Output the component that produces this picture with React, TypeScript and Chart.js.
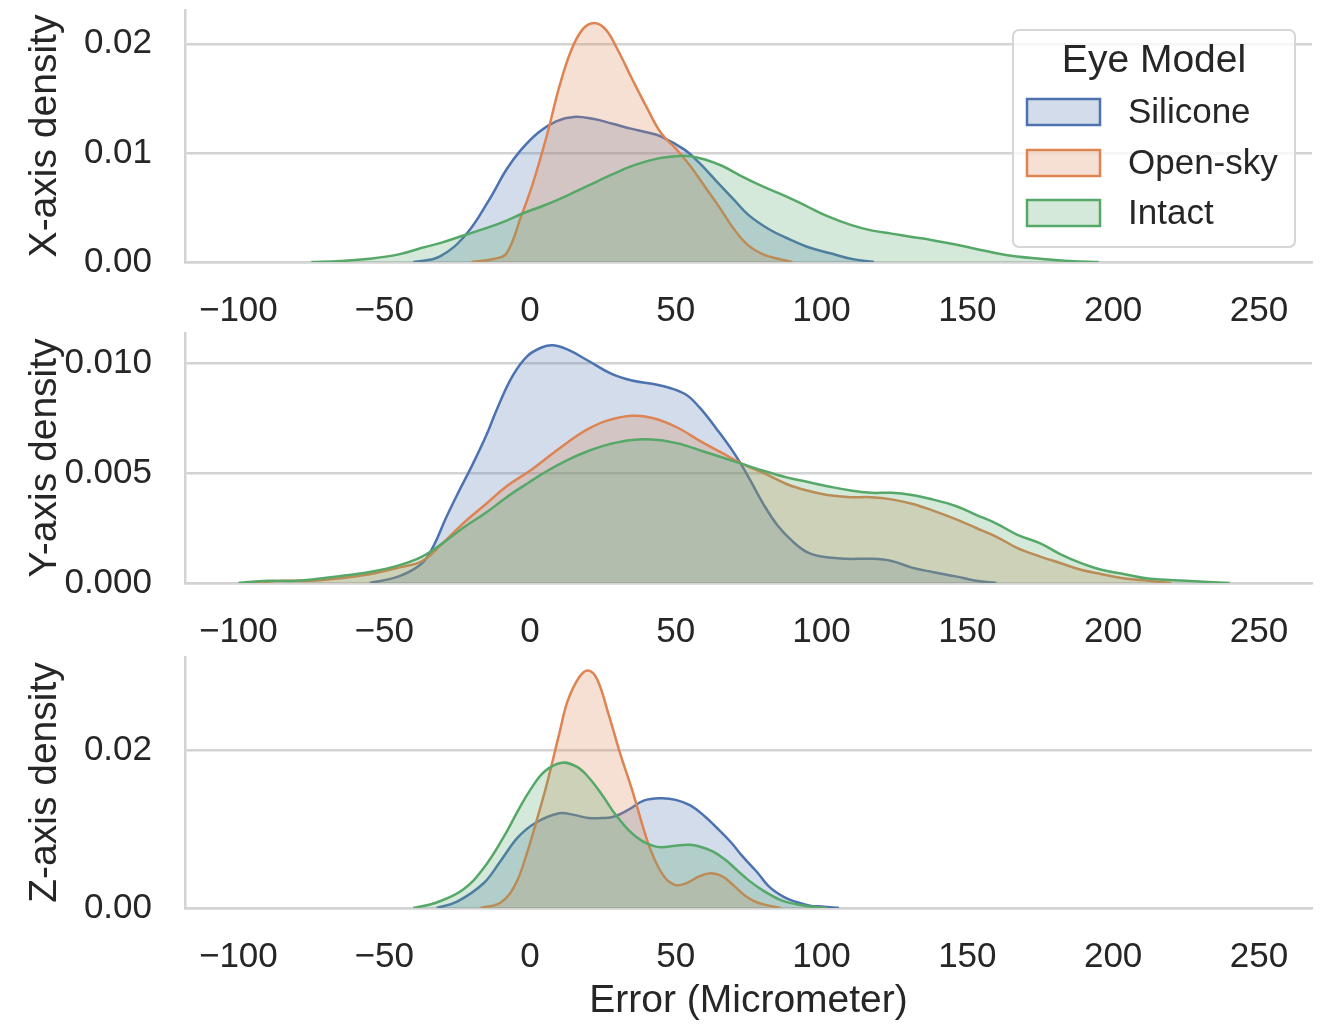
import React, { useEffect, useRef } from "react";
import { Chart, registerables } from "chart.js";

Chart.register(...registerables);

// ---------- data ----------
const seriesNames = ["Silicone", "Open-sky", "Intact"];
const xTickValues = [-100, -50, 0, 50, 100, 150, 200, 250];
const xTickLabels = ["\u2212100", "\u221250", "0", "50", "100", "150", "200", "250"];

// X-axis density panel
const xSiliconeX = [-40, -31, -22, -14, -8, -3, 3, 9, 15, 22, 28, 35, 40, 45, 53, 58, 64, 70, 75, 82, 88, 95, 103, 110, 118];
const xSiliconeY = [0, 0.0005, 0.0025, 0.0057, 0.0085, 0.0103, 0.0119, 0.0129, 0.0133, 0.0131, 0.0127, 0.0122, 0.0119, 0.0115, 0.0103, 0.0091, 0.0074, 0.0057, 0.0043, 0.003, 0.0022, 0.0014, 0.0008, 0.0003, 0];
const xOpenSkyX = [-20, -12, -8, -3, 1, 6, 10, 14, 18, 22, 26, 30, 35, 40, 45, 50, 55, 60, 65, 70, 75, 80, 85, 90];
const xOpenSkyY = [0, 0.0003, 0.0008, 0.0042, 0.0072, 0.0118, 0.016, 0.0193, 0.0213, 0.0219, 0.0213, 0.0195, 0.0168, 0.0142, 0.0118, 0.0104, 0.0088, 0.0069, 0.005, 0.003, 0.0015, 0.0007, 0.0003, 0];
const xIntactX = [-75, -65, -55, -45, -37, -30, -22, -15, -8, -3, 5, 12, 20, 28, 36, 44, 50, 55, 60, 66, 73, 80, 88, 95, 102, 110, 117, 124, 131, 138, 146, 153, 160, 167, 175, 185, 195];
const xIntactY = [0, 0.0001, 0.0003, 0.0007, 0.0013, 0.0018, 0.0025, 0.0031, 0.0038, 0.0044, 0.0052, 0.006, 0.007, 0.008, 0.0089, 0.0095, 0.0097, 0.0097, 0.0094, 0.0088, 0.0078, 0.0069, 0.006, 0.0051, 0.0042, 0.0034, 0.0029, 0.0026, 0.0023, 0.002, 0.0016, 0.0012, 0.0008, 0.0005, 0.0003, 0.0001, 0];

// Y-axis density panel
const ySiliconeX = [-55, -45, -37, -33, -29, -25, -20, -15, -11, -6, -1, 4, 8, 13, 20, 28, 35, 44, 53, 58, 64, 70, 75, 80, 85, 90, 95, 100, 108, 117, 124, 131, 138, 146, 153, 160];
const ySiliconeY = [0, 0.0003, 0.0009, 0.0017, 0.0029, 0.0040, 0.0053, 0.0067, 0.008, 0.0094, 0.0103, 0.0107, 0.0108, 0.0106, 0.0101, 0.0095, 0.0092, 0.009, 0.0086, 0.008, 0.007, 0.0059, 0.0048, 0.0036, 0.0026, 0.0019, 0.0014, 0.0012, 0.0011, 0.0011, 0.001, 0.0007, 0.0005, 0.0003, 0.0001, 0];
const yOpenSkyX = [-95, -85, -75, -66, -55, -45, -37, -30, -23, -15, -8, 0, 6, 13, 20, 27, 35, 42, 50, 59, 66, 73, 80, 88, 95, 102, 110, 117, 124, 131, 138, 146, 153, 160, 167, 175, 182, 189, 196, 204, 212, 220];
const yOpenSkyY = [0, 0.0001, 0.0001, 0.0002, 0.0004, 0.0007, 0.001, 0.0018, 0.0027, 0.0036, 0.0044, 0.0051, 0.0057, 0.0064, 0.007, 0.0074, 0.0076, 0.0075, 0.0071, 0.0064, 0.0059, 0.0054, 0.005, 0.0045, 0.0042, 0.004, 0.0039, 0.0039, 0.0038, 0.0036, 0.0033, 0.0029, 0.0025, 0.0021, 0.0016, 0.0012, 0.0009, 0.0006, 0.0004, 0.0002, 0.0001, 0];
const yIntactX = [-100, -90, -80, -66, -55, -45, -37, -30, -23, -15, -8, 0, 6, 13, 20, 27, 35, 44, 52, 59, 66, 73, 80, 88, 95, 102, 110, 117, 124, 131, 138, 146, 153, 160, 167, 175, 182, 189, 196, 204, 212, 225, 240];
const yIntactY = [0, 0.0001, 0.0001, 0.0003, 0.0005, 0.0008, 0.0012, 0.0018, 0.0025, 0.0032, 0.0039, 0.0046, 0.0051, 0.0056, 0.006, 0.0063, 0.0065, 0.0065, 0.0063, 0.006, 0.0057, 0.0054, 0.0051, 0.0048, 0.0046, 0.0044, 0.0042, 0.0041, 0.0041, 0.004, 0.0038, 0.0035, 0.0031, 0.0027, 0.0022, 0.0018, 0.0013, 0.0009, 0.0006, 0.0004, 0.0002, 0.0001, 0];

// Z-axis density panel
const zSiliconeX = [-32, -25, -16, -10, -4, 2, 10, 15, 20, 25, 29, 34, 39, 45, 50, 55, 60, 64, 69, 73, 78, 82, 87, 91, 96, 100, 106];
const zSiliconeY = [0, 0.0008, 0.0031, 0.006, 0.009, 0.0108, 0.012, 0.0118, 0.0114, 0.0114, 0.0116, 0.0125, 0.0136, 0.0139, 0.0137, 0.013, 0.0116, 0.0102, 0.0083, 0.0065, 0.0045, 0.0027, 0.0014, 0.0008, 0.0003, 0.0002, 0];
const zOpenSkyX = [-17, -10, -5, -1, 3, 6, 10, 13, 17, 20, 23, 27, 31, 35, 39, 42, 46, 50, 54, 58, 62, 66, 70, 74, 78, 82, 86];
const zOpenSkyY = [0, 0.0007, 0.003, 0.007, 0.012, 0.016, 0.022, 0.0263, 0.0293, 0.0301, 0.029, 0.0245, 0.0195, 0.015, 0.01, 0.0068, 0.004, 0.0029, 0.0032, 0.004, 0.0044, 0.004, 0.0028, 0.0015, 0.0007, 0.0003, 0];
const zIntactX = [-40, -32, -23, -16, -9, -4, 0, 5, 11, 16, 20, 25, 29, 34, 38, 42, 45, 50, 55, 59, 63, 67, 71, 75, 80, 86, 91, 96, 102];
const zIntactY = [0, 0.0007, 0.0023, 0.005, 0.009, 0.0124, 0.0149, 0.0173, 0.0184, 0.0179, 0.0166, 0.0142, 0.012, 0.0098, 0.0086, 0.0079, 0.0077, 0.0079, 0.008, 0.0077, 0.0071, 0.0061, 0.0048, 0.0035, 0.0022, 0.001, 0.0005, 0.0002, 0];

const yTicksX = [0, 0.01, 0.02];
const yLabelsX = ["0.00", "0.01", "0.02"];
const yTicksY = [0, 0.005, 0.01];
const yLabelsY = ["0.000", "0.005", "0.010"];
const yTicksZ = [0, 0.02];
const yLabelsZ = ["0.00", "0.02"];

// ---------- styling ----------
const FONT = "'Liberation Sans', Arial, Helvetica, sans-serif";
const TEXT = "#262626";
const GRID = "#d3d3d3";
const lineColors = ["#4C72B0", "#DD8452", "#55A868"];
const fillColors = ["rgba(76,114,176,0.25)", "rgba(221,132,82,0.25)", "rgba(85,168,104,0.25)"];

const zip = (xs: number[], ys: number[]) => xs.map((x, i) => ({ x, y: ys[i] }));

type Panel = {
  top: number;
  height: number;
  axisH: number;
  yTitle: string;
  yMax: number;
  yTicks: number[];
  yLabels: string[];
  series: { x: number[]; y: number[] }[];
  legend: boolean;
  xTitle: boolean;
};

const panels: Panel[] = [
  {
    top: 0, height: 330, axisH: 68, yTitle: "X-axis density", yMax: 0.0231,
    yTicks: yTicksX, yLabels: yLabelsX,
    series: [{ x: xSiliconeX, y: xSiliconeY }, { x: xOpenSkyX, y: xOpenSkyY }, { x: xIntactX, y: xIntactY }],
    legend: true, xTitle: false,
  },
  {
    top: 323, height: 328, axisH: 68, yTitle: "Y-axis density", yMax: 0.01136,
    yTicks: yTicksY, yLabels: yLabelsY,
    series: [{ x: ySiliconeX, y: ySiliconeY }, { x: yOpenSkyX, y: yOpenSkyY }, { x: yIntactX, y: yIntactY }],
    legend: false, xTitle: false,
  },
  {
    top: 647, height: 380, axisH: 119, yTitle: "Z-axis density", yMax: 0.0318,
    yTicks: yTicksZ, yLabels: yLabelsZ,
    series: [{ x: zSiliconeX, y: zSiliconeY }, { x: zOpenSkyX, y: zOpenSkyY }, { x: zIntactX, y: zIntactY }],
    legend: false, xTitle: true,
  },
];

const legendPlugin = {
  id: "eyeLegend",
  afterDraw(chart: any, _args: any, opts: any) {
    if (!opts || !opts.show) return;
    const ctx = chart.ctx as CanvasRenderingContext2D;
    ctx.save();
    const bx = 1013, by = 30, bw = 282, bh = 217;
    ctx.beginPath();
    if ((ctx as any).roundRect) (ctx as any).roundRect(bx, by, bw, bh, 6);
    else ctx.rect(bx, by, bw, bh);
    ctx.fillStyle = "rgba(255,255,255,0.8)";
    ctx.fill();
    ctx.lineWidth = 2;
    ctx.strokeStyle = "#d6d6d6";
    ctx.stroke();
    ctx.fillStyle = TEXT;
    ctx.font = `39px ${FONT}`;
    ctx.textAlign = "center";
    ctx.textBaseline = "middle";
    ctx.fillText("Eye Model", 1154, 61);
    ctx.font = `35px ${FONT}`;
    const rows = [112, 163, 213];
    ctx.textAlign = "left";
    seriesNames.forEach((name, i) => {
      const cy = rows[i];
      ctx.fillStyle = fillColors[i];
      ctx.fillRect(1027, cy - 13, 73, 26);
      ctx.strokeStyle = lineColors[i];
      ctx.lineWidth = 2.5;
      ctx.strokeRect(1027, cy - 13, 73, 26);
      ctx.fillStyle = TEXT;
      ctx.fillText(name, 1128, cy + 1);
    });
    ctx.restore();
  },
};

function PanelChart({ p }: { p: Panel }) {
  const ref = useRef<HTMLCanvasElement | null>(null);
  useEffect(() => {
    if (!ref.current) return;
    const order = [2, 1, 0];
    const chart = new Chart(ref.current, {
      type: "line",
      data: {
        datasets: p.series.map((s, i) => ({
          label: seriesNames[i],
          data: zip(s.x, s.y),
          borderColor: lineColors[i],
          backgroundColor: fillColors[i],
          borderWidth: 2.5,
          fill: "origin",
          pointRadius: 0,
          tension: 0.4,
          order: order[i],
        })),
      },
      options: {
        responsive: false,
        animation: false,
        devicePixelRatio: 1,
        layout: { padding: { top: 10, right: 9, left: 0, bottom: 0 }, autoPadding: false },
        plugins: {
          legend: { display: false },
          tooltip: { enabled: false },
          eyeLegend: { show: p.legend },
        } as any,
        scales: {
          x: {
            type: "linear",
            min: -118.3,
            max: 268.2,
            afterBuildTicks: (s: any) => { s.ticks = xTickValues.map((v) => ({ value: v })); },
            afterFit: (s: any) => { s.height = p.axisH; s.paddingLeft = 0; s.paddingRight = 0; },
            grid: { display: false, drawTicks: false },
            border: { display: true, color: GRID, width: 2.5 },
            ticks: {
              padding: 28,
              maxRotation: 0,
              autoSkip: false,
              color: TEXT,
              font: { family: FONT, size: 35 },
              callback: (_v: any, i: number) => xTickLabels[i],
            },
            title: {
              display: p.xTitle,
              text: "Error (Micrometer)",
              color: TEXT,
              font: { family: FONT, size: 39 },
              padding: { top: 0, bottom: 2 },
            },
          },
          y: {
            type: "linear",
            min: 0,
            max: p.yMax,
            afterBuildTicks: (s: any) => { s.ticks = p.yTicks.map((v) => ({ value: v })); },
            afterFit: (s: any) => { s.width = 185; s.paddingTop = 0; s.paddingBottom = 0; },
            grid: { display: true, drawTicks: false, color: GRID, lineWidth: 2.5 },
            border: { display: true, color: GRID, width: 2.5 },
            ticks: {
              padding: 33,
              color: TEXT,
              font: { family: FONT, size: 35 },
              callback: (_v: any, i: number) => p.yLabels[i],
            },
            title: {
              display: true,
              text: p.yTitle,
              color: TEXT,
              font: { family: FONT, size: 39 },
              padding: { top: 22, bottom: 0 },
            },
          },
        },
      },
      plugins: [legendPlugin],
    } as any);
    return () => chart.destroy();
  }, [p]);
  return (
    <canvas
      ref={ref}
      width={1321}
      height={p.height}
      style={{ position: "absolute", left: 0, top: p.top, width: 1321, height: p.height }}
    />
  );
}

export default function App() {
  return (
    <div style={{ position: "absolute", left: 0, top: 0, width: 1321, height: 1027, background: "#fff", overflow: "hidden" }}>
      {panels.map((p, i) => (
        <PanelChart key={i} p={p} />
      ))}
    </div>
  );
}
